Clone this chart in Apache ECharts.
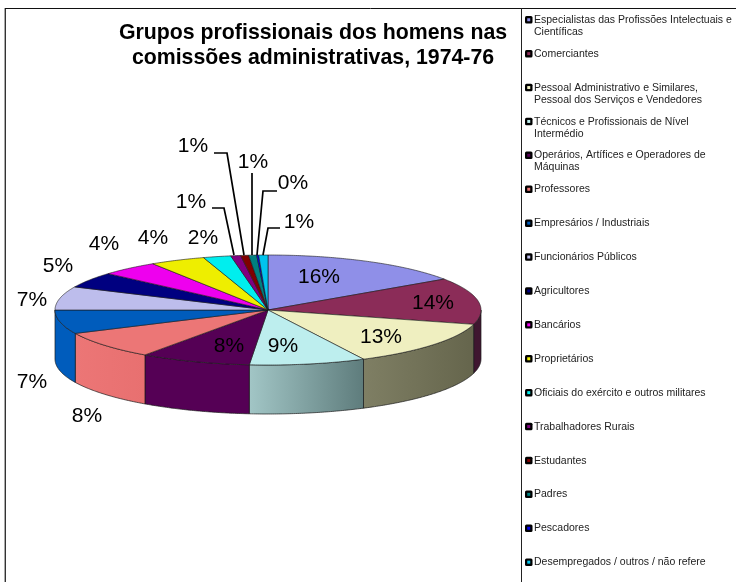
<!DOCTYPE html>
<html>
<head>
<meta charset="utf-8">
<style>
  html, body { margin: 0; padding: 0; background: #fff; }
  #pie3d { width: 736px; height: 582px; }
</style>
</head>
<body>
<div id="pie3d"></div>
<script src="https://cdn.jsdelivr.net/npm/echarts@6/dist/echarts.min.js"></script>
<script>
var categories = [
  'Especialistas das Profissões Intelectuais e\nCientíficas',
  'Comerciantes',
  'Pessoal Administrativo e Similares,\nPessoal dos Serviços e Vendedores',
  'Técnicos e Profissionais de Nível\nIntermédio',
  'Operários, Artífices e Operadores de\nMáquinas',
  'Professores',
  'Empresários / Industriais',
  'Funcionários Públicos',
  'Agricultores',
  'Bancários',
  'Proprietários',
  'Oficiais do exército e outros militares',
  'Trabalhadores Rurais',
  'Estudantes',
  'Padres',
  'Pescadores',
  'Desempregados / outros / não refere'
]
// percentages, printed rounded
var values = [15.5, 13.7, 13.4, 8.8, 8.4, 8.2, 7, 6.9, 4.6, 4.4, 4.2, 2.1, 0.75, 0.6, 0.6, 0.15, 0.7]

var topColors = ['#8f8fe8', '#8b2c58', '#efefc0', '#bdeeee', '#550055', '#ec7676', '#005cbc', '#bdbdec',
  '#000080', '#ee00ee', '#eeee00', '#00eeee', '#800080', '#800000', '#008080', '#0000ee', '#00c4ee']
// rim shading, left colour then right colour
var wallLeft = ['#6f6fb4', '#3f1630', '#7f7f64', '#a2c6c6', '#550055', '#ec7676', '#005cbc', '#9090b4',
  '#000060', '#b000b0', '#b0b000', '#00b0b0', '#600060', '#600000', '#006060', '#0000b0', '#0090b0']
var wallRight = ['#6f6fb4', '#3f1630', '#65654c', '#5e7c7c', '#550055', '#e87070', '#005cbc', '#9090b4',
  '#000060', '#b000b0', '#b0b000', '#00b0b0', '#600060', '#600000', '#006060', '#0000b0', '#0090b0']

// label centres, in slice order
var labelPos = [[319, 277], [433, 303], [381, 337], [283, 346], [229, 346], [87, 416], [32, 382], [32, 300],
  [58, 266], [104, 244], [153, 238], [203, 238], [191, 202], [193, 146], [253, 162], [293, 183], [299, 222]]
// leader lines of the small slices, by slice index
var leaders = {
  12: [[212, 208], [224, 208], [234, 255]],
  13: [[214, 153], [227, 153], [244, 255]],
  14: [[252, 173], [252, 255]],
  15: [[277, 191], [263, 191], [257, 255]],
  16: [[280, 228], [268, 228], [263, 255]]
}

var cx = 268
var cy = 310
var rx = 213
var ry = 55
var depth = 49

var total = values.reduce(function (a, b) { return a + b }, 0)

function pt (t, dy) {
  // t in radians, clockwise from twelve o'clock
  return [cx + rx * Math.sin(t), cy - ry * Math.cos(t) + (dy || 0)]
}

function sweep (a, b, dy) {
  var n = Math.max(2, Math.ceil((b - a) / 0.01))
  var out = []
  for (var i = 0; i <= n; i++) {
    out.push(pt(a + (b - a) * i / n, dy))
  }
  return out
}

function renderSlice (params, api) {
  var i = params.dataIndex
  var start = 0
  for (var k = 0; k < i; k++) start += values[k]
  var a = start / total * Math.PI * 2
  var b = (start + api.value(0)) / total * Math.PI * 2
  var children = []

  // only the front half of the rim is visible
  var wa = Math.max(a, Math.PI / 2)
  var wb = Math.min(b, Math.PI * 1.5)
  if (wb > wa) {
    var edge = sweep(wa, wb, 0)
    var low = sweep(wa, wb, depth).reverse()
    children.push({
      type: 'polygon',
      shape: { points: edge.concat(low) },
      style: {
        fill: new echarts.graphic.LinearGradient(0, 0, 1, 0, [
          { offset: 0, color: wallLeft[i] },
          { offset: 1, color: wallRight[i] }
        ]),
        stroke: '#1a1a1a',
        lineWidth: 0.7
      }
    })
  }
  children.push({
    type: 'polygon',
    shape: { points: [[cx, cy]].concat(sweep(a, b, 0)) },
    style: { fill: topColors[i], stroke: '#1a1a1a', lineWidth: 0.6 }
  })
  return { type: 'group', children: children }
}

function renderLabel (params, api) {
  var i = params.dataIndex
  var children = []
  if (leaders[i]) {
    children.push({
      type: 'polyline',
      shape: { points: leaders[i] },
      style: { fill: 'none', stroke: '#000', lineWidth: 1.7 }
    })
  }
  children.push({
    type: 'text',
    style: {
      text: Math.round(api.value(0)) + '%',
      x: labelPos[i][0],
      y: labelPos[i][1],
      align: 'center',
      verticalAlign: 'middle',
      fill: '#000',
      font: '21px "Liberation Sans", Arial, sans-serif'
    }
  })
  return { type: 'group', children: children }
}

function renderLegend (params) {
  var i = params.dataIndex
  var y = 20 + 33.9 * i
  return {
    type: 'group',
    children: [
      {
        type: 'rect',
        shape: { x: 525, y: y - 4, width: 7.5, height: 7.5, r: 1.5 },
        style: { fill: '#000' }
      },
      {
        type: 'rect',
        shape: { x: 527.25, y: y - 1.75, width: 3, height: 3 },
        style: { fill: topColors[i] }
      },
      {
        type: 'text',
        style: {
          text: categories[i],
          x: 534,
          y: y - 6,
          align: 'left',
          verticalAlign: 'top',
          lineHeight: 12,
          fill: '#222',
          font: '10.5px "Liberation Sans", Arial, sans-serif'
        }
      }
    ]
  }
}

var myChart = echarts.init(document.getElementById('pie3d'), null, { renderer: 'canvas' })
myChart.setOption({
  animation: false,
  backgroundColor: '#fff',
  title: {
    text: 'Grupos profissionais dos homens nas\ncomissões administrativas, 1974-76',
    left: 308,
    top: 16,
    textAlign: 'center',
    textStyle: {
      fontFamily: '"Liberation Sans", Arial, sans-serif',
      fontSize: 21.3,
      fontWeight: 'bold',
      lineHeight: 25,
      color: '#000'
    }
  },
  graphic: [
    { type: 'line', shape: { x1: 4.5, y1: 8, x2: 4.5, y2: 582 }, style: { stroke: '#aaa', lineWidth: 1 } },
    { type: 'line', shape: { x1: 5.5, y1: 8, x2: 5.5, y2: 582 }, style: { stroke: '#333', lineWidth: 1 } },
    { type: 'line', shape: { x1: 5, y1: 8.5, x2: 736, y2: 8.5 }, style: { stroke: '#111', lineWidth: 1 } },
    { type: 'line', shape: { x1: 521.5, y1: 8, x2: 521.5, y2: 582 }, style: { stroke: '#222', lineWidth: 1 } }
  ],
  series: [
    { type: 'custom', coordinateSystem: 'none', renderItem: renderSlice, data: values, silent: true },
    { type: 'custom', coordinateSystem: 'none', renderItem: renderLabel, data: values, silent: true },
    { type: 'custom', coordinateSystem: 'none', renderItem: renderLegend, data: categories, silent: true }
  ]
})
</script>
</body>
</html>
